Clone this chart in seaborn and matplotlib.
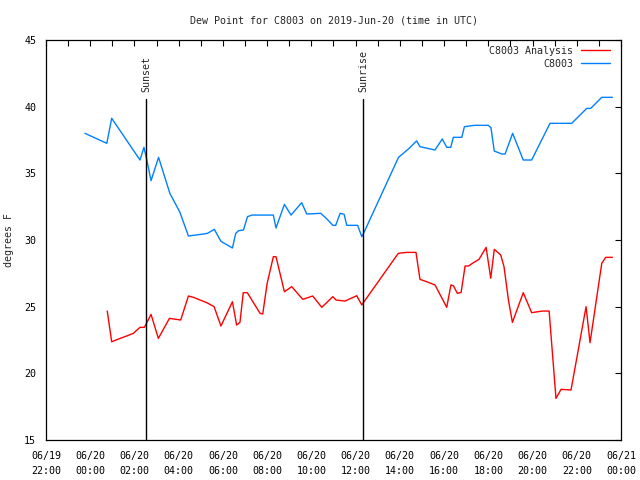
import matplotlib
matplotlib.use("Agg")
import matplotlib.pyplot as plt
import matplotlib.dates as mdates
import seaborn as sns
import pandas as pd
import numpy as np

# Hours after 2019-06-20 00:00 UTC, and dew point values (degrees F)
obs_hours = [-0.24, 0.75, 0.97, 2.25, 2.43, 2.56, 2.75, 3.09, 3.6, 4.05, 4.44, 5.04, 5.3, 5.61,
             5.91, 6.43, 6.58, 6.71, 6.93, 7.11, 7.31, 8.28, 8.40, 8.78, 9.08, 9.56, 9.79, 10.42,
             10.69, 10.97, 11.1, 11.30, 11.48, 11.6, 12.09, 12.28, 12.38, 13.94, 14.39, 14.76,
             14.91, 15.59, 15.92, 16.12, 16.3, 16.42, 16.8, 16.92, 17.37, 18.0, 18.12, 18.27,
             18.61, 18.76, 19.1, 19.58, 19.96, 20.79, 21.77, 22.45, 22.63, 23.13, 23.61]
obs_values = [38.0, 37.25, 39.13, 36.0, 36.95, 36.0, 34.45, 36.2, 33.5, 32.1, 30.3, 30.43, 30.5, 30.8,
              29.9, 29.4, 30.5, 30.7, 30.75, 31.75, 31.87, 31.87, 30.9, 32.67, 31.87, 32.8, 31.95, 32.0,
              31.6, 31.1, 31.1, 32.0, 31.93, 31.1, 31.1, 30.25, 30.57, 36.2, 36.83, 37.43,
              37.0, 36.75, 37.58, 36.95, 36.95, 37.7, 37.7, 38.5, 38.6, 38.6, 38.42, 36.67,
              36.45, 36.45, 38.0, 36.0, 36.0, 38.75, 38.75, 39.87, 39.87, 40.7, 40.7]

ana_hours = [0.77, 0.97, 1.35, 1.65, 1.95, 2.25, 2.45, 2.75, 3.08, 3.58, 3.8, 4.09, 4.44, 4.67, 5.04,
             5.27, 5.6, 5.91, 6.43, 6.62, 6.77, 6.92, 7.1, 7.68, 7.8, 8.0, 8.28, 8.40, 8.78, 9.11,
             9.61, 10.06, 10.47, 10.97, 11.11, 11.52, 12.05, 12.28, 12.38, 13.93, 14.31, 14.73,
             14.91, 15.13, 15.59, 16.12, 16.31, 16.42, 16.6, 16.77, 16.95, 17.1, 17.33, 17.58,
             17.9, 18.11, 18.27, 18.56, 18.71, 18.91, 19.09, 19.58, 19.96, 20.44, 20.75, 21.06,
             21.29, 21.74, 22.42, 22.6, 23.13, 23.31, 23.61]
ana_values = [24.67, 22.37, 22.62, 22.8, 23.0, 23.45, 23.45, 24.42, 22.62, 24.12, 24.07, 24.0, 25.8, 25.7, 25.45,
              25.3, 25.0, 23.55, 25.37, 23.62, 23.82, 26.05, 26.05, 24.5, 24.45, 26.75, 28.75, 28.75, 26.12, 26.5,
              25.55, 25.8, 24.95, 25.75, 25.5, 25.42, 25.82, 25.13, 25.37, 29.0, 29.07, 29.07,
              27.05, 26.92, 26.63, 24.95, 26.63, 26.57, 26.0, 26.07, 28.05, 28.05, 28.3, 28.55,
              29.45, 27.13, 29.3, 28.88, 28.0, 25.5, 23.82, 26.05, 24.55, 24.67, 24.67, 18.12,
              18.8, 18.75, 25.0, 22.3, 28.25, 28.7, 28.7]

sunset_time = "2019-06-20 02:31"
sunrise_time = "2019-06-20 12:20"
x_start, x_end = "2019-06-19 22:00", "2019-06-21 00:00"
y_ticks = [15, 20, 25, 30, 35, 40, 45]

base = pd.Timestamp("2019-06-20 00:00")
df_ana = pd.DataFrame({"time": base + pd.to_timedelta(ana_hours, unit="h"), "value": ana_values})
df_obs = pd.DataFrame({"time": base + pd.to_timedelta(obs_hours, unit="h"), "value": obs_values})

sns.set_style("white")
plt.rcParams["font.family"] = ["DejaVu Sans Mono", "DejaVu Sans"]
plt.rcParams["font.size"] = 7.2

fig = plt.figure(figsize=(6.4, 4.8), dpi=100)
ax = fig.add_axes([46 / 640, 1 - 440 / 480, (621 - 46) / 640, 400 / 480])

red = "#ff0000"
blue = "#0080ff"
sns.lineplot(data=df_ana, x="time", y="value", ax=ax, color=red, lw=1.0, label="C8003 Analysis")
sns.lineplot(data=df_obs, x="time", y="value", ax=ax, color=blue, lw=1.0, label="C8003")

ax.set_xlim(pd.Timestamp(x_start), pd.Timestamp(x_end))
ax.set_ylim(15, 45)
ax.set_yticks(y_ticks)

ax.xaxis.set_major_locator(mdates.HourLocator(byhour=range(0, 24, 2)))
ax.xaxis.set_minor_locator(mdates.HourLocator())
ax.xaxis.set_major_formatter(mdates.DateFormatter("%m/%d\n%H:%M"))

ax.tick_params(axis="both", which="both", direction="in", top=True, right=True,
               length=4.5, width=0.8, color="black", labelsize=7.2, colors="black")
ax.tick_params(axis="x", pad=8)
ax.tick_params(axis="y", pad=7)
for lbl in ax.get_xticklabels():
    lbl.set_linespacing(1.55)
for sp in ax.spines.values():
    sp.set_color("black")
    sp.set_linewidth(0.9)

ax.set_xlabel("")
ax.set_ylabel("degrees F", fontsize=7.2)
ax.yaxis.set_label_coords((14 - 46) / 575, 0.5)
ax.set_title("Dew Point for C8003 on 2019-Jun-20 (time in UTC)", fontsize=7.2, pad=12)

frac = (40.6 - 15) / 30
for t, lab in [(sunset_time, "Sunset"), (sunrise_time, "Sunrise")]:
    ts = pd.Timestamp(t)
    ax.axvline(ts, ymin=0, ymax=frac, color="black", lw=1.0)
    ax.text(ts, 41.1, lab, rotation=90, ha="center", va="bottom", fontsize=7.2)

leg = ax.legend(loc="upper right", bbox_to_anchor=(0.981, 0.985), borderaxespad=0, borderpad=0,
                frameon=False, markerfirst=False, handlelength=2.95,
                handletextpad=0.75, labelspacing=0.3, fontsize=7.2)

fig.savefig("out.png", dpi=100, facecolor="white")
